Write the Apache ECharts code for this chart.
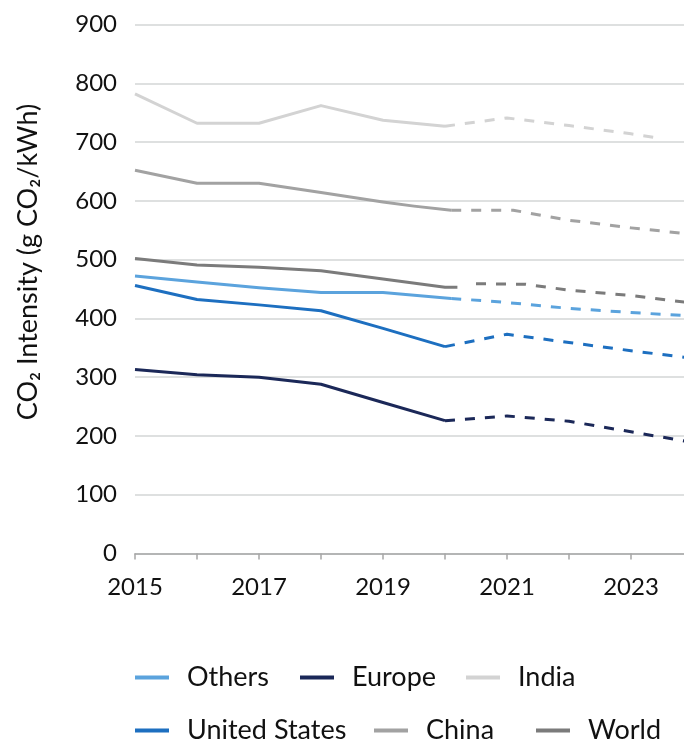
<!DOCTYPE html>
<html>
<head>
<meta charset="utf-8">
<script src="https://cdn.jsdelivr.net/npm/echarts@6/dist/echarts.min.js"></script>
<style>
  html, body { margin: 0; padding: 0; background: #ffffff; }
  #chart { width: 684px; height: 743px; }
</style>
</head>
<body>
<div id="chart"></div>
<script>
// Carbon intensity of electricity generation, g CO2 per kWh.
// Each region: observed values (solid) and projection (dashed), as [year, value].
const othersHist = [[2015, 472], [2016, 462], [2017, 452], [2018, 444], [2019, 444], [2020.1, 434]];
const othersProj = [[2020.1, 434], [2021, 427], [2022, 417], [2023, 410], [2024, 404]];

const europeHist = [[2015, 313], [2016, 304], [2017, 300], [2018, 288], [2019, 257], [2020, 226]];
const europeProj = [[2020, 226], [2021, 234], [2022, 225], [2023, 207], [2024, 189]];

const indiaHist = [[2015, 782], [2016, 732], [2017, 732], [2018, 762], [2019, 737], [2020, 727]];
const indiaProj = [[2020, 727], [2021, 741], [2022, 728], [2023, 714], [2023.5, 706]];

const usHist = [[2015, 456], [2016, 432], [2017, 423], [2018, 413], [2019, 383], [2020, 352]];
const usProj = [[2020, 352], [2021, 373], [2022, 359], [2023, 345], [2024, 332]];

const chinaHist = [[2015, 652], [2016, 630], [2017, 630], [2018, 614], [2019, 598], [2019.5, 591], [2020.1, 584]];
const chinaProj = [[2020.1, 584], [2021.1, 584], [2022, 567], [2023, 554], [2024, 543]];

const worldHist = [[2015, 502], [2016, 491], [2017, 487], [2018, 481], [2019, 467], [2020, 453], [2020.2, 453]];
const worldProj = [[2020.5, 459], [2021.3, 458], [2022, 448], [2023, 439], [2024, 426]];

const regionNames = ['Others', 'Europe', 'India', 'United States', 'China', 'World'];
const regionHist = [othersHist, europeHist, indiaHist, usHist, chinaHist, worldHist];
const regionProj = [othersProj, europeProj, indiaProj, usProj, chinaProj, worldProj];
const regionColors = ['#5ba3dd', '#1b2858', '#d3d3d3', '#1d6fc0', '#a2a2a2', '#7b7b7b'];

const yearMin = 2015;
const yearMax = 2024;
const valueMin = 0;
const valueMax = 900;
const valueStep = 100;

const axisTitle = 'CO\u2082 Intensity (g CO\u2082/kWh)';
const FONT = 'Lato, "Open Sans", sans-serif';

// legend placement: [left, top] per entry, two rows of three
const legendSpots = [[135, 664], [300, 664], [466, 664], [135, 717], [374, 717], [536, 717]];

const series = [];
regionNames.forEach((name, i) => {
  const base = {
    name: name,
    type: 'line',
    showSymbol: false,
    symbol: 'none',
    silent: true,
    color: regionColors[i],
    z: 2 + i
  };
  series.push(Object.assign({}, base, {
    data: regionHist[i],
    lineStyle: { width: 3, color: regionColors[i], join: 'round', cap: 'butt' }
  }));
  series.push(Object.assign({}, base, {
    data: regionProj[i],
    lineStyle: { width: 3, color: regionColors[i], type: [10, 10], join: 'round', cap: 'butt' }
  }));
});

const legends = regionNames.map((name, i) => ({
  data: [name],
  left: legendSpots[i][0],
  top: legendSpots[i][1],
  orient: 'horizontal',
  padding: 0,
  icon: 'rect',
  itemWidth: 34,
  itemHeight: 4,
  selectedMode: false,
  textStyle: {
    fontFamily: FONT,
    fontSize: 27,
    color: '#111111',
    padding: [0, 0, 0, 13]
  }
}));

const chart = echarts.init(document.getElementById('chart'), null, { renderer: 'canvas' });
chart.setOption({
  animation: false,
  backgroundColor: '#ffffff',
  grid: {
    left: 135,
    right: -9,
    top: 24.5,
    bottom: 189.5,
    outerBoundsMode: 'none'
  },
  xAxis: {
    type: 'value',
    min: yearMin,
    max: yearMax,
    interval: 1,
    splitLine: { show: false },
    axisLine: { show: true, lineStyle: { color: '#a6a6a6', width: 1.5 } },
    axisTick: { show: true, length: 6, lineStyle: { color: '#a6a6a6', width: 1.5 } },
    axisLabel: {
      fontFamily: FONT,
      fontSize: 24,
      color: '#111111',
      margin: 22,
      formatter: v => (v % 2 === 1 ? String(v) : '')
    }
  },
  yAxis: {
    type: 'value',
    min: valueMin,
    max: valueMax,
    interval: valueStep,
    axisLine: { show: false },
    axisTick: { show: false },
    splitLine: { show: true, lineStyle: { color: '#d3d6d6', width: 1.5 } },
    axisLabel: {
      fontFamily: FONT,
      fontSize: 24,
      color: '#111111',
      margin: 18,
      padding: [0, 0, 8, 0]
    }
  },
  legend: legends,
  graphic: [{
    type: 'text',
    x: 28,
    y: 262,
    rotation: Math.PI / 2,
    style: {
      text: axisTitle,
      fontFamily: FONT,
      fontSize: 27,
      fill: '#111111',
      align: 'center',
      verticalAlign: 'middle'
    }
  }],
  series: series
});
</script>
</body>
</html>
